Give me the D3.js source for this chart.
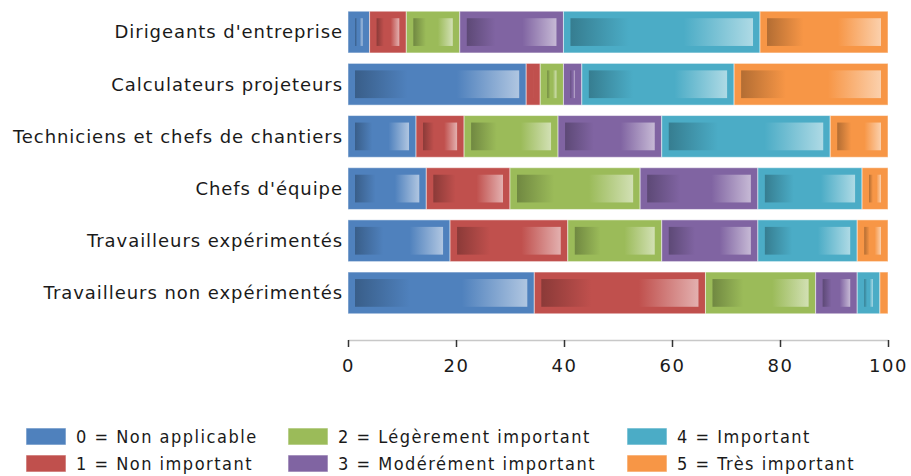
<!DOCTYPE html>
<html>
<head>
<meta charset="utf-8">
<script src="https://cdn.jsdelivr.net/npm/d3@7"></script>
<style>
  body { margin: 0; background: #fff; }
  svg text { fill: #1a1a1a; }
</style>
</head>
<body>
<div id="container"></div>
<script>
      //Data
      var categories = ["Dirigeants d'entreprise", "Calculateurs projeteurs", "Techniciens et chefs de chantiers",
                        "Chefs d'équipe", "Travailleurs expérimentés", "Travailleurs non expérimentés"];
      var seriesNames = ["0 = Non applicable", "1 = Non important", "2 = Légèrement important",
                         "3 = Modérément important", "4 = Important", "5 = Très important"];
      var s0 = [4.0, 33.0, 12.6, 14.5, 18.9, 34.5];
      var s1 = [6.8, 2.6, 8.9, 15.5, 21.8, 31.7];
      var s2 = [9.9, 4.3, 17.4, 24.1, 17.4, 20.4];
      var s3 = [19.2, 3.4, 19.2, 21.8, 17.8, 7.7];
      var s4 = [36.4, 28.2, 31.2, 19.3, 18.4, 4.2];
      var s5 = [23.7, 28.5, 10.7, 4.8, 5.7, 1.5];
      var xTicks = [0, 20, 40, 60, 80, 100];
      var colors = ["#4F81BD", "#C0504D", "#9BBB59", "#8064A2", "#4BACC6", "#F79646"];

      //Width and height
      var w = 911;
      var h = 476;

      var svg = d3.select("#container")
            .append("svg")
            .attr("width", w)
            .attr("height", h);

      var x = d3.scaleLinear().domain([0, 100]).range([348, 888]);
      var y = d3.scaleBand().domain(categories).range([6, 319]).paddingInner(0.2).paddingOuter(0.1);

      //Build rows for stacking
      var series = [s0, s1, s2, s3, s4, s5];
      var rows = categories.map(function(c, i) {
        var r = { cat: c };
        series.forEach(function(s, k) { r["k" + k] = s[i]; });
        return r;
      });
      var stack = d3.stack().keys(series.map(function(s, k) { return "k" + k; }));
      var stacked = stack(rows);

      //Gradients
      var defs = svg.append("defs");
      colors.forEach(function(c, k) {
        var g = defs.append("linearGradient").attr("id", "grad" + k)
          .attr("x1", "0%").attr("x2", "100%").attr("y1", "0%").attr("y2", "0%");
        g.append("stop").attr("offset", "0%").attr("stop-color", d3.color(c).darker(0.9));
        g.append("stop").attr("offset", "32%").attr("stop-color", c);
        g.append("stop").attr("offset", "62%").attr("stop-color", c);
        g.append("stop").attr("offset", "100%").attr("stop-color", d3.interpolateRgb(c, "#fff")(0.55));
      });

      var inset = 7;
      var layers = svg.selectAll("g.layer")
        .data(stacked)
        .enter()
        .append("g")
        .attr("class", "layer");

      layers.selectAll("rect.outer")
        .data(function(d) { return d; })
        .enter()
        .append("rect")
        .attr("class", "outer")
        .attr("x", function(d) { return x(d[0]); })
        .attr("y", function(d) { return y(d.data.cat); })
        .attr("width", function(d) { return x(d[1]) - x(d[0]); })
        .attr("height", y.bandwidth())
        .attr("fill", function(d, i, nodes) { return colors[stacked.indexOf(d3.select(nodes[i].parentNode).datum())]; })
        .attr("stroke", "rgba(255,255,255,0.5)")
        .attr("stroke-width", 1);

      layers.selectAll("rect.inner")
        .data(function(d) { return d; })
        .enter()
        .append("rect")
        .attr("class", "inner")
        .attr("x", function(d) { return x(d[0]) + inset; })
        .attr("y", function(d) { return y(d.data.cat) + inset; })
        .attr("width", function(d) { return Math.max(0, x(d[1]) - x(d[0]) - 2 * inset); })
        .attr("height", y.bandwidth() - 2 * inset)
        .attr("fill", function(d, i, nodes) { return "url(#grad" + stacked.indexOf(d3.select(nodes[i].parentNode).datum()) + ")"; });

      //Category labels
      svg.selectAll("text.cat")
        .data(categories)
        .enter()
        .append("text")
        .attr("class", "cat")
        .attr("x", 343)
        .attr("y", function(d) { return y(d) + y.bandwidth() / 2; })
        .attr("dy", "0.35em")
        .attr("text-anchor", "end")
        .style("font-family", "DejaVu Sans")
        .style("font-size", "18px")
        .style("letter-spacing", "0.95px")
        .text(function(d) { return d; });

      //X axis
      var xAxis = svg.append("g")
        .attr("transform", "translate(0,340)")
        .call(d3.axisBottom(x).tickValues(xTicks).tickSize(7).tickSizeOuter(0));
      xAxis.select(".domain").attr("stroke", "#c8c8c8").attr("stroke-width", 1.5);
      xAxis.selectAll(".tick line").attr("stroke", "#333").attr("stroke-width", 1.5);
      xAxis.selectAll(".tick text")
        .attr("y", 19)
        .style("font-family", "DejaVu Sans")
        .style("font-size", "18px")
        .style("letter-spacing", "1.5px")
        .attr("fill", "#1a1a1a");

      //Legend
      var legX = [26, 288, 627];
      var legY = [437, 464];
      var leg = svg.selectAll("g.leg")
        .data(seriesNames)
        .enter()
        .append("g")
        .attr("class", "leg")
        .attr("transform", function(d, i) {
          return "translate(" + legX[Math.floor(i / 2)] + "," + legY[i % 2] + ")";
        });
      leg.append("rect")
        .attr("x", 0).attr("y", -9)
        .attr("width", 40).attr("height", 17)
        .attr("fill", function(d, i) { return colors[i]; })
        .attr("stroke", "rgba(255,255,255,0.6)");
      leg.append("text")
        .attr("x", 50)
        .attr("dy", "0.35em")
        .style("font-family", "DejaVu Sans Condensed, DejaVu Sans")
        .style("font-stretch", "condensed")
        .style("font-size", "18px")
        .style("letter-spacing", "1.5px")
        .text(function(d) { return d; });
</script>
</body>
</html>
